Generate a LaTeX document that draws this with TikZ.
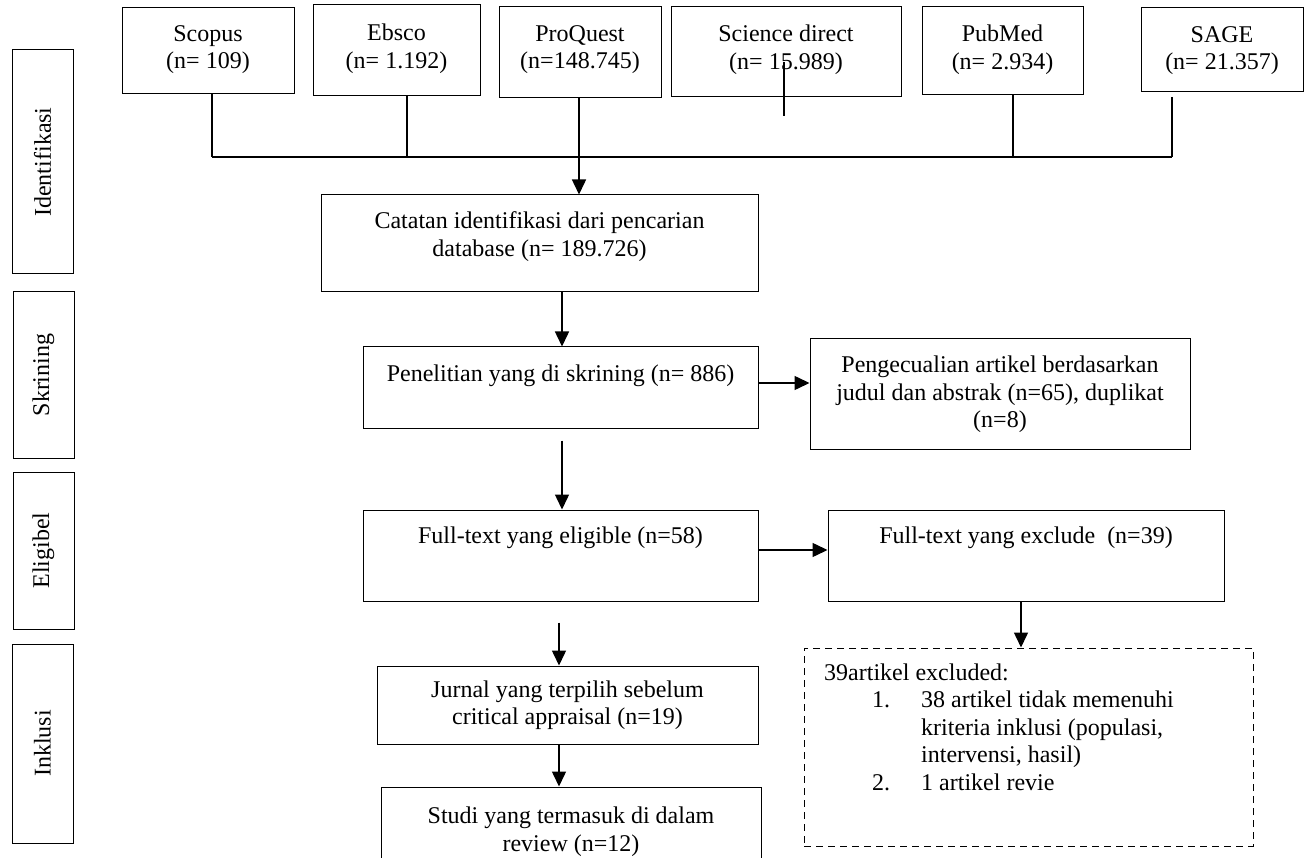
\documentclass[tikz,border=0pt]{standalone}
\usepackage{fontspec}
\setmainfont{Liberation Serif}
\usetikzlibrary{arrows.meta}
\begin{document}
\begin{tikzpicture}[x=1pt,y=-1pt,
  every node/.style={font=\fontsize{24}{27.5}\selectfont},
  frame/.style={draw, line width=1pt, inner sep=0pt},
  dframe/.style={draw, line width=1pt, inner sep=0pt, dash pattern=on 7pt off 5pt},
  side/.style={frame, rotate=90},
  lbl/.style={inner sep=0pt, align=center, anchor=north},
  conn/.style={line width=1.5pt},
  arr/.style={line width=1.5pt, -{Triangle[length=15pt,width=14pt]}},
]
\useasboundingbox (0,0) rectangle (1304,858);

% side labels
\node[side, minimum width=224pt, minimum height=61pt] (ident) at (42.5,162) {Identifikasi};
\node[side, minimum width=166pt, minimum height=61pt] (skrin) at (43.5,375) {Skrining};
\node[side, minimum width=157pt, minimum height=61pt] (elig) at (43.5,550.5) {Eligibel};
\node[side, minimum width=199pt, minimum height=61pt] (inkl) at (42.5,743.5) {Inklusi};

% source boxes
\node[frame, minimum width=172pt, minimum height=86pt] (scopus) at (208,51) {};
\node[lbl] (scopusT) at (208,25) {Scopus\\(n= 109)};
\node[frame, minimum width=167pt, minimum height=91pt] (ebsco) at (396.5,50.5) {};
\node[lbl] (ebscoT) at (396.5,24) {Ebsco\\(n= 1.192)};
\node[frame, minimum width=162pt, minimum height=91pt] (proquest) at (580,52.5) {};
\node[lbl] (proquestT) at (580,25) {ProQuest\\(n=148.745)};
\node[frame, minimum width=230pt, minimum height=90pt] (scidirect) at (786,52) {};
\node[lbl] (scidirectT) at (786,25) {Science direct\\(n= 15.989)};
\node[frame, minimum width=161pt, minimum height=88pt] (pubmed) at (1002.5,51) {};
\node[lbl] (pubmedT) at (1002.5,25) {PubMed\\(n= 2.934)};
\node[frame, minimum width=162pt, minimum height=84pt] (sage) at (1222,50) {};
\node[lbl] (sageT) at (1222,26) {SAGE\\(n= 21.357)};

% flow boxes
\node[frame, minimum width=437pt, minimum height=97pt] (catatan) at (539.5,243.5) {};
\node[lbl] (catatanT) at (539.5,211.5) {Catatan identifikasi dari pencarian\\database (n= 189.726)};
\node[frame, minimum width=395pt, minimum height=82pt] (penelitian) at (560.5,388) {};
\node[lbl] (penelitianT) at (560.5,365) {Penelitian yang di skrining (n= 886)};
\node[frame, minimum width=380pt, minimum height=110pt] (pengecualian) at (1000,394) {};
\node[lbl] (pengecualianT) at (1000,356) {Pengecualian artikel berdasarkan\\judul dan abstrak (n=65), duplikat\\(n=8)};
\node[frame, minimum width=395pt, minimum height=91pt] (eligible) at (560.5,555.5) {};
\node[lbl] (eligibleT) at (560.5,527) {Full-text yang eligible (n=58)};
\node[frame, minimum width=396pt, minimum height=91pt] (exclude) at (1026,555.5) {};
\node[lbl] (excludeT) at (1026,527) {Full-text yang exclude~ (n=39)};
\node[frame, minimum width=381pt, minimum height=78pt] (jurnal) at (567.5,705) {};
\node[lbl] (jurnalT) at (567.5,680.5) {Jurnal yang terpilih sebelum\\critical appraisal (n=19)};
\node[frame, minimum width=380pt, minimum height=75pt] (studi) at (571,824.5) {};
\node[lbl] (studiT) at (571,807) {Studi yang termasuk di dalam\\review (n=12)};
\node[dframe, minimum width=449pt, minimum height=198pt] (excluded) at (1028.5,747) {};
\node[inner sep=0pt, align=left, anchor=north west] (excludedT) at (824,663.5) {39artikel excluded:\\
\hspace*{48pt}\makebox[49pt][l]{1.}38 artikel tidak memenuhi\\
\hspace*{97pt}kriteria inklusi (populasi,\\
\hspace*{97pt}intervensi, hasil)\\
\hspace*{48pt}\makebox[49pt][l]{2.}1 artikel revie};

% connector coordinates
\coordinate (j1) at (212,157);
\coordinate (j2) at (407,157);
\coordinate (j3) at (579,157);
\coordinate (j5) at (1013,157);
\coordinate (j6) at (1172,157);
\coordinate (sageGap) at (1172,97);
\coordinate (stubA) at (784,62);
\coordinate (stubB) at (784,116);
\coordinate (colA) at (562,0);
\coordinate (colB) at (559,0);
\coordinate (colC) at (1021,0);
\coordinate (rowA) at (0,383);
\coordinate (rowB) at (0,550);

% top connectors
\draw[conn] (scopus.south -| j1) -- (j1);
\draw[conn] (ebsco.south -| j2) -- (j2);
\draw[conn] (pubmed.south -| j5) -- (j5);
\draw[conn] (sageGap) -- (j6);
\draw[conn] (j1) -- (j6);
\draw[conn] (stubA) -- (stubB);
\draw[arr] (proquest.south -| j3) -- (catatan.north -| j3);

% flow connectors
\draw[arr] (catatan.south -| colA) -- (penelitian.north -| colA);
\draw[arr] (penelitian.east |- rowA) -- (pengecualian.west |- rowA);
\draw[arr, shorten <=11pt] (penelitian.south -| colA) -- (eligible.north -| colA);
\draw[arr] (eligible.east |- rowB) -- (exclude.west |- rowB);
\draw[arr, shorten <=21pt] (eligible.south -| colB) -- (jurnal.north -| colB);
\draw[arr] (jurnal.south -| colB) -- (studi.north -| colB);
\draw[arr] (exclude.south -| colC) -- (excluded.north -| colC);
\end{tikzpicture}
\end{document}
